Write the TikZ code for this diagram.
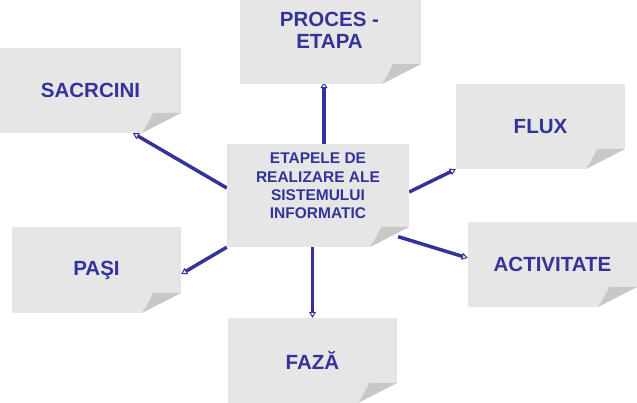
\documentclass[tikz,border=0pt]{standalone}
\usepackage{fontspec}
\setmainfont{Liberation Sans}
\usetikzlibrary{arrows.meta}
\definecolor{boxgray}{RGB}{230,230,230}
\definecolor{foldgray}{RGB}{200,200,200}
\definecolor{navy}{RGB}{51,51,153}
\pgfdeclarelayer{background}
\pgfsetlayers{background,main}
\tikzset{
 note/.style={rectangle, fill=boxgray, inner sep=0pt, minimum width=169pt, minimum height=85pt,
  text=navy, font=\fontsize{20.5}{22}\selectfont\bfseries, align=center,
  path picture={
   \fill[white] ([xshift=-39pt]path picture bounding box.south east) -- (path picture bounding box.south east) -- ([yshift=20pt]path picture bounding box.south east) -- cycle;
   \fill[foldgray] ([xshift=-39pt]path picture bounding box.south east)
     .. controls ([shift={(-34pt,8pt)}]path picture bounding box.south east) and ([shift={(-30pt,15pt)}]path picture bounding box.south east)
     .. ([shift={(-28pt,20pt)}]path picture bounding box.south east) -- ([yshift=20pt]path picture bounding box.south east) -- cycle;
  }},
 txtbig/.style={text=navy, font=\fontsize{20.5}{22}\selectfont\bfseries, align=center, inner sep=0pt},
 txtsmall/.style={text=navy, font=\fontsize{15.5}{18.3}\selectfont\bfseries, align=center, inner sep=0pt},
 conn/.style={navy, line width=3.5pt, -{Triangle[open, length=6pt, width=7pt, line width=1pt]}},
}
\begin{document}
\begin{tikzpicture}[x=1pt,y=1pt]
\useasboundingbox (0,0) rectangle (637,403);
\node[note, minimum width=181pt] (sacr) at (90.5,312.5) {SACRCINI};
\node[note, minimum width=181pt, minimum height=84pt] (proces) at (330.5,361) {};
\node[txtbig] (procestxt) at (329.5,373) {PROCES -\\ETAPA};
\node[note, minimum width=182pt, minimum height=103pt] (center) at (318,207.5) {};
\node[txtsmall] (centertxt) at (318,217) {ETAPELE DE\\REALIZARE ALE\\SISTEMULUI\\INFORMATIC};
\node[note] (flux) at (540.5,276.5) {FLUX};
\node[note] (activ) at (552.5,138.5) {ACTIVITATE};
\node[note, minimum height=86pt] (pasi) at (96.5,133) {PAŞI};
\node[note] (faza) at (312.5,42.5) {FAZĂ};
\draw[conn] ([shift={(-11pt,10.5pt)}]center.south east) -- ([yshift=6.5pt]activ.west);
\begin{pgfonlayer}{background}
\draw[conn] ([xshift=6pt]center.north) -- ([shift={(-6.5pt,2pt)}]proces.south);
\draw[conn] ([yshift=7.5pt]center.west) -- ([xshift=42.5pt]sacr.south);
\draw[conn] ([yshift=3.5pt]center.east) -- (flux.south west);
\draw[conn] (center.south west) -- ([yshift=-4pt]pasi.east);
\draw[conn] (center.south -| faza.north) -- (faza.north);
\end{pgfonlayer}
\end{tikzpicture}
\end{document}
